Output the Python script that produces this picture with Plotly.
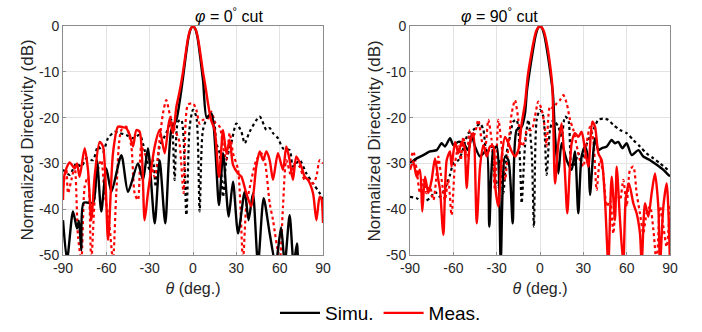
import plotly.graph_objects as go

# ---------------- phi = 0 cut ----------------
th_p0_simu_co = [-90, -87.2, -83.1, -80.3, -79, -77.3, -75.7, -69.2, -66.5, -63.5, -60, -56.5, -49.6, -45,
                 -38.1, -34.6, -31.2, -26.5, -23.1, -19.2, -15, -11.5, -9, -7, -5, -3, -1.5, 0, 1.5, 3, 5,
                 7, 9.5, 12.7, 18, 20.8, 24.7, 27.7, 31.2, 35.8, 38.5, 41.5, 45, 48.9, 53.1, 57.2, 61, 63.5,
                 66.9, 69.7, 72, 73.8, 90]
db_p0_simu_co = [-42.4, -51, -40.5, -44.2, -42.5, -49, -38.6, -38.6, -29.3, -40.5, -31.1, -36.2, -28.2, -36.2,
                 -30, -33.6, -26.7, -43.1, -29.3, -43.1, -22.7, -20.5, -16, -11.5, -6.5, -2.3, -0.6, 0, -0.6,
                 -2.3, -6.8, -12, -20, -19.1, -39.1, -27.8, -41.6, -34, -45.3, -36.2, -42.4, -36.5, -52,
                 -37.6, -45.3, -52, -44, -52, -41.3, -52, -47.5, -52, -55]

th_p0_simu_x = [-90, -85.4, -80.8, -77.3, -73.8, -69.2, -65.8, -62.3, -58.8, -54.2, -50.8, -46.2, -41.5, -36.9,
                -33.5, -30, -27.7, -25.8, -23.1, -18.5, -15, -12.7, -10.4, -8.1, -4.6, -2.3, 0, 2.3, 4.6, 6.9,
                10.4, 13.8, 16.2, 18.5, 20.8, 23.1, 26.5, 30, 33.5, 35.8, 39.2, 46.2, 50.8, 53.1, 55.4, 58.8,
                62.3, 66.9, 69.2, 73.8, 78.5, 83.1, 87.7, 90]
db_p0_simu_x = [-31.4, -32.5, -30, -30.7, -28.9, -29.3, -26.3, -27.4, -24.5, -23.1, -23.4, -23.8, -24.5, -23.8,
                -27.1, -31.4, -29.3, -35.1, -26.3, -23.4, -20.5, -33.6, -20.9, -20.5, -41.3, -22, -18.3, -19.8,
                -40.5, -22.7, -19.8, -19.8, -25.6, -27.8, -37.3, -29.3, -25.6, -21.3, -23.1, -25.6, -23.1,
                -19.8, -22.7, -22.3, -23.4, -24.5, -26.7, -27.1, -30.7, -29.3, -32.2, -34.4, -36.5, -38]

th_p0_meas_co = [-90, -88.8, -85.4, -81.9, -80.3, -78.5, -75, -72.7, -70.4, -68.1, -64.6, -62.3, -58.8, -55.4,
                 -51.9, -48.5, -46.2, -43.8, -41.5, -39.2, -36.9, -33.5, -31.2, -26.5, -23.1, -19.6, -16.2,
                 -13.8, -11.5, -10, -8.5, -6.9, -5, -3.5, -2, 0, 2, 3.5, 5, 6.9, 8.5, 10.4, 12.5, 15, 18,
                 20.8, 23.1, 25.4, 27.7, 31.2, 33.5, 36.9, 40.4, 43.8, 46.2, 48.5, 50.8, 53.1, 55.4, 58.8,
                 62.3, 64.6, 66.9, 69.2, 71.5, 75, 77.3, 79.6, 83.1, 85.4, 87.7, 88.8, 90]
db_p0_meas_co = [-38, -32.2, -29.8, -31.1, -30, -32.9, -26.7, -31.4, -42.4, -32.9, -25.3, -26.3, -46.7, -27.8,
                 -22, -22.1, -22.3, -23.8, -26.3, -22.7, -23.1, -42.4, -36.5, -26.3, -22.7, -27.8, -20.2,
                 -23.4, -17.6, -15.4, -13, -10, -5.8, -2.8, -0.9, 0, -0.9, -2.8, -5.8, -10, -13, -16.9,
                 -20.5, -22.7, -33, -22.7, -27.8, -24.9, -30.3, -32.2, -32.9, -36.5, -39.4, -30.7, -27.4,
                 -29.3, -27.4, -29.3, -33.6, -27.8, -31.4, -26.3, -29.3, -33.6, -28.5, -30.7, -32.9, -33.6,
                 -36.5, -42.4, -37.3, -37.6, -43]

th_p0_meas_x = [-90, -87.7, -86.5, -84.2, -81.9, -79.6, -77.3, -75, -72.7, -70.4, -66.9, -63.5, -61.2, -58.2,
                -55.4, -53.1, -49.6, -46.2, -42.7, -40.4, -38.1, -35.8, -33.5, -30, -26.5, -23.1, -20.8,
                -18.5, -16.2, -12.7, -9.7, -6.5, -3.5, 0, 2.3, 4.6, 6.9, 10.4, 12.7, 15, 18.5, 20.8, 23.1,
                25.4, 27.7, 31.2, 34.6, 36.9, 40.4, 43.8, 47.3, 49.6, 53.1, 55.4, 60, 62.3, 64.6, 68.1, 70.4,
                73.8, 77.3, 80.8, 83.1, 85.4, 87.7, 90]
db_p0_meas_x = [-35.1, -31.4, -36.5, -33.6, -30.7, -46, -51.1, -35.1, -32.9, -51.1, -32.9, -29.3, -36.5, -42.4,
                -51.1, -36.5, -22.7, -22, -26.3, -36.5, -38, -26.3, -27.8, -29.3, -32.9, -24.9, -19.1, -16.2,
                -19.1, -22.7, -24.9, -36.5, -17.2, -16.9, -18.3, -21.3, -20.5, -20.2, -18.7, -20.9, -22,
                -26.3, -29.3, -23.4, -27.8, -31.4, -51.1, -39.4, -33.6, -29.3, -27.8, -29.3, -38.7, -42.4,
                -51.1, -39.4, -29.3, -32.9, -30, -30.7, -33.6, -33.6, -34.4, -32.9, -29.3, -30]

# ---------------- phi = 90 cut ----------------
th_p90_simu_co = [-90, -85.4, -80.8, -76.2, -71.5, -68.1, -65.8, -62.3, -60, -56.5, -53.1, -49.6, -47.3, -45,
                  -41.5, -39.2, -36.9, -35.1, -32.3, -30, -27.2, -24.2, -21.9, -18.9, -16.2, -12.7, -10.4, -9,
                  -7, -5, -3, -1.5, 0, 1.5, 3, 5, 7, 9, 10.4, 12.7, 15, 18.5, 21.9, 24.2, 26.5, 28.8, 31.2,
                  33.5, 34.6, 38.1, 40.4, 42.7, 46.2, 49.6, 51.9, 54.2, 57, 60, 63.5, 68.1, 71.5, 76.2, 80.8,
                  85.4, 88.8, 90]
db_p90_simu_co = [-30, -28.9, -28.2, -27.4, -27.1, -25.6, -26.3, -24.5, -26, -25.3, -25.6, -27.1, -23.8, -26.3,
                  -28.5, -27.8, -27.1, -43.8, -27.1, -26.3, -51.1, -28.5, -29.3, -43.1, -22.7, -22, -19.1, -14,
                  -9.5, -5.5, -2, -0.5, 0, -0.5, -2, -5.5, -9.8, -15, -23.8, -32.2, -25.6, -29.3, -31.4, -27.4,
                  -40.9, -28.5, -26.3, -29.3, -36.9, -24.5, -27.1, -26.7, -26.3, -24.9, -25.6, -25.3, -26.7,
                  -25.6, -28.2, -27.1, -28.5, -29.3, -30.3, -31.4, -32.5, -32.8]

th_p90_simu_x = [-90, -85.4, -80.8, -76.2, -72.7, -69.2, -65.8, -62.3, -60, -56.5, -54.2, -49.6, -46.2, -41.5,
                 -39.2, -36.9, -33.5, -31.2, -28.8, -27.7, -25.4, -23.1, -20.8, -18.5, -16.2, -13.8, -12.7,
                 -10.4, -8.1, -5.8, -4.2, -2.3, 0, 2.3, 4.6, 6.9, 9.2, 12.7, 15, 17.3, 19.6, 21.9, 24.2, 26.5,
                 28.8, 31.2, 33.5, 36.9, 40.4, 43.8, 47.3, 50.8, 55.4, 60, 64.6, 69.2, 73.8, 78.5, 83.1, 90]
db_p90_simu_x = [-37.3, -37.6, -38.4, -37.6, -36.2, -37.3, -35.4, -32.5, -30, -29.3, -27.8, -23.4, -22.7, -21.3,
                 -22.7, -27.8, -26.3, -32.9, -35.1, -29.3, -36.5, -27.8, -24.2, -20.9, -20.5, -30, -38.7,
                 -26.3, -20.5, -27.1, -43.8, -20.5, -18.3, -19.8, -32.5, -22.7, -20.5, -22, -24.2, -19.8,
                 -20.5, -30.7, -30, -27.8, -29.3, -26.7, -24.9, -22.7, -20.5, -20.2, -20.5, -21.6, -22.7,
                 -23.4, -24.9, -26.3, -27.8, -28.9, -30, -31.8]

th_p90_meas_co = [-90, -87.7, -85.4, -83.1, -81.5, -79.6, -77.3, -75, -72.7, -70.4, -69.2, -66.9, -64.6, -62.3,
                  -61.2, -58.8, -56.5, -54.2, -52.4, -50.8, -48.5, -46.2, -43.8, -41.5, -39.2, -36.9, -34.6,
                  -32.3, -31.2, -28.8, -26.5, -24.2, -21.9, -19.6, -17.3, -15, -12.7, -10.4, -8.5, -6.5, -4.5,
                  -2.5, 0, 2.5, 4.5, 6.5, 8.5, 10.4, 12.7, 15, 17.3, 18.9, 21.9, 24.2, 26.5, 28.8, 31.2, 33.5,
                  36.2, 38.1, 40.4, 42.7, 45, 47.3, 49.6, 51.9, 53.1, 55.4, 57.7, 59.3, 61.6, 64.6, 66.9, 69.2,
                  70.4, 72.7, 75, 77.3, 79.6, 81.9, 83.1, 85.4, 87.7, 90]
db_p90_meas_co = [-31.4, -29.6, -32.9, -31.4, -40.5, -32.9, -36.5, -33.6, -28.9, -33.6, -35.8, -45.6, -29.3,
                  -27.4, -30.7, -25.3, -27.8, -25.3, -26.3, -35.4, -25.6, -23.4, -43.1, -30.7, -26, -28.5,
                  -26.3, -26.3, -34.4, -39.4, -28.5, -24.2, -25.6, -27.4, -28.5, -27.1, -21.3, -16.9, -11,
                  -7, -3.5, -1, 0, -1, -3.5, -7.4, -13, -34.4, -25.6, -21.3, -32.2, -40.9, -25.6, -23.4,
                  -24.2, -23.1, -27.1, -30.7, -20.9, -22, -27.8, -29.3, -38, -52, -32.9, -42.4, -30.7, -42.4,
                  -52, -38, -34.4, -38.7, -40.9, -45.3, -52, -38.7, -41.6, -36.5, -32.2, -39.4, -52, -39.4,
                  -34.4, -52]

th_p90_meas_x = [-90, -87.7, -85.4, -83.1, -80.8, -78.5, -76.2, -73.8, -71.5, -70.4, -68.1, -65.8, -63.5, -61.2,
                 -58.8, -56.5, -54.9, -53.1, -50.8, -48.5, -46.6, -45, -42.7, -40.4, -38.1, -35.8, -33.5,
                 -31.2, -28.8, -26.5, -24.2, -21.9, -19.6, -17.3, -15, -12.7, -10.4, -9.2, -5.8, -3.5, -1.2,
                 1.2, 3.5, 4.6, 6.9, 9.2, 11.5, 13.8, 16.2, 18.5, 20.8, 23.1, 27.7, 30, 32.3, 34.6, 36.9,
                 39.2, 41.5, 43.8, 46.2, 48.5, 50.8, 53.1, 55.4, 57.7, 60, 62.3, 64.6, 66.9, 69.2, 71.5, 73.8,
                 76.2, 78.5, 80.8, 83.1, 85.4, 87.7, 90]
db_p90_meas_x = [-29.6, -27.4, -31.4, -36.5, -33.6, -36.5, -35.1, -38, -32.2, -28.5, -33.6, -38, -33.6, -41.3,
                 -30, -26.3, -29.3, -24.2, -28.5, -22.7, -24.2, -23.4, -20.5, -24.9, -27.1, -20.5, -24.9,
                 -35.8, -20.5, -26.3, -33.6, -26.3, -19.1, -16.2, -20.5, -26.3, -24.9, -22.7, -22.7, -19.8,
                 -16.5, -18.3, -22.7, -26.3, -17.6, -18, -16.9, -16.2, -15.1, -16.9, -20.5, -22.7, -29.3,
                 -30.7, -25.6, -22, -24.9, -35.8, -29.3, -32.2, -39.4, -38, -45.3, -36.5, -38, -33.6, -39.4,
                 -31.4, -30.7, -36.5, -40.9, -45.3, -40.9, -39.4, -44.5, -52, -39.4, -43.8, -48.2, -38.7]

x_ticks = [-90, -60, -30, 0, 30, 60, 90]
y_ticks = [-50, -40, -30, -20, -10, 0]
titles = ["<i>φ</i> = 0<sup>°</sup> cut", "<i>φ</i> = 90<sup>°</sup> cut"]
y_title = "Normalized Directivity (dB)"
legend_names = ["Simu.", "Meas."]

FONT = "Liberation Sans, Arial, sans-serif"
BLACK = "#000000"
RED = "#ff0000"

fig = go.Figure()

def add(th, db, color, dash, xa, ya, name=None, show=False):
    fig.add_trace(go.Scatter(
        x=th, y=db, mode="lines", xaxis=xa, yaxis=ya,
        line=dict(color=color, width=2.4 if dash == "solid" else 2.2, dash=dash,
                  shape="spline", smoothing=0.7),
        name=name, showlegend=show, hoverinfo="skip"))

# left (phi=0): cross-pol first, then co-pol on top
add(th_p0_simu_x, db_p0_simu_x, BLACK, "dot", "x", "y")
add(th_p0_meas_x, db_p0_meas_x, RED, "dot", "x", "y")
add(th_p0_simu_co, db_p0_simu_co, BLACK, "solid", "x", "y", legend_names[0], True)
add(th_p0_meas_co, db_p0_meas_co, RED, "solid", "x", "y", legend_names[1], True)
# right (phi=90)
add(th_p90_simu_x, db_p90_simu_x, BLACK, "dot", "x2", "y2")
add(th_p90_meas_x, db_p90_meas_x, RED, "dot", "x2", "y2")
add(th_p90_simu_co, db_p90_simu_co, BLACK, "solid", "x2", "y2")
add(th_p90_meas_co, db_p90_meas_co, RED, "solid", "x2", "y2")

W, H = 702, 332
yd = [1 - 255 / H, 1 - 26 / H]
ax_common = dict(showline=True, mirror=True, linecolor="#8c8c8c", linewidth=1,
                 showgrid=True, gridcolor="#e3e3e3", gridwidth=1, zeroline=False,
                 ticks="inside", ticklen=3, tickcolor="#8c8c8c", automargin=False,
                 tickfont=dict(family=FONT, size=14, color="#262626"))
xaxis = dict(ax_common, range=[-90, 90], tickvals=x_ticks, ticktext=[str(v) for v in x_ticks],
             title=dict(text="<i>θ</i> (deg.)", font=dict(family=FONT, size=16, color="#262626"), standoff=8))
yaxis = dict(ax_common, range=[-50, 0], tickvals=y_ticks, ticktext=[str(v) for v in y_ticks])

ycenter = 1 - (26 + 255) / 2 / H
fig.update_layout(
    width=W, height=H, margin=dict(l=0, r=0, t=0, b=0, autoexpand=False),
    paper_bgcolor="white", plot_bgcolor="white",
    xaxis=dict(xaxis, domain=[63 / W, 323 / W], anchor="y"),
    yaxis=dict(yaxis, domain=yd, anchor="x"),
    xaxis2=dict(xaxis, domain=[410 / W, 670 / W], anchor="y2"),
    yaxis2=dict(yaxis, domain=yd, anchor="x2"),
    showlegend=True,
    legend=dict(orientation="h", x=0.542, xanchor="center", y=1 - 313 / H, yanchor="middle",
                font=dict(family=FONT, size=19, color="#000000"), itemwidth=40,
                bgcolor="rgba(0,0,0,0)", tracegroupgap=0),
    annotations=[
        dict(text=titles[0], x=(63 + 323) / 2 / W, y=1 - 15 / H, xref="paper", yref="paper",
             showarrow=False, font=dict(family=FONT, size=16, color="#000000"), yanchor="middle"),
        dict(text=titles[1], x=(410 + 670) / 2 / W, y=1 - 15 / H, xref="paper", yref="paper",
             showarrow=False, font=dict(family=FONT, size=16, color="#000000"), yanchor="middle"),
        dict(text=y_title, x=27 / W, y=ycenter, xref="paper", yref="paper", textangle=-90,
             showarrow=False, font=dict(family=FONT, size=17, color="#262626"),
             xanchor="center", yanchor="middle"),
        dict(text=y_title, x=374 / W, y=ycenter, xref="paper", yref="paper", textangle=-90,
             showarrow=False, font=dict(family=FONT, size=17, color="#262626"),
             xanchor="center", yanchor="middle"),
    ],
)

fig.write_html("out.html", config={"displayModeBar": False},
               post_script="document.body.style.margin='0px';document.body.style.overflow='hidden';")
